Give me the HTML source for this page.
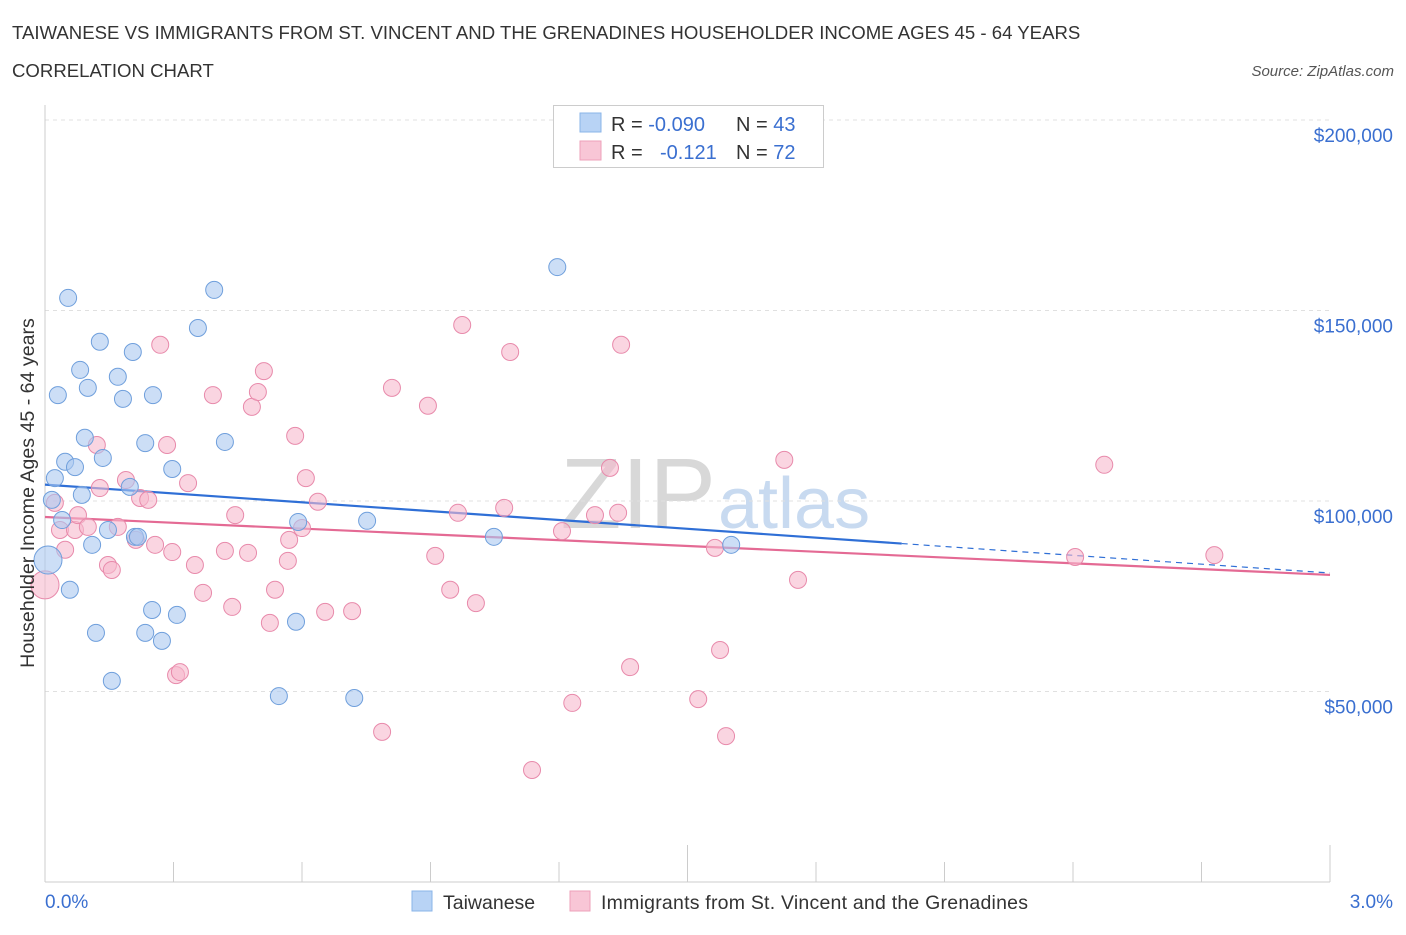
<!DOCTYPE html>
<html><head><meta charset="utf-8">
<style>
body{margin:0;background:#fff;font-family:"Liberation Sans",sans-serif;}
svg text{font-family:"Liberation Sans",sans-serif;}
</style></head>
<body>
<svg id="chart" width="1406" height="930" viewBox="0 0 1406 930" xmlns="http://www.w3.org/2000/svg">
<text x="12" y="39" font-size="18.6" fill="#333">TAIWANESE VS IMMIGRANTS FROM ST. VINCENT AND THE GRENADINES HOUSEHOLDER INCOME AGES 45 - 64 YEARS</text>
<text x="12" y="77" font-size="18.6" fill="#333">CORRELATION CHART</text>
<text x="1394" y="76" font-size="15" fill="#555" font-style="italic" text-anchor="end">Source: ZipAtlas.com</text>
<text x="716" y="528" font-size="100" fill="#d8d8d8" text-anchor="end" font-family="Liberation Serif">ZIP</text>
<text x="718" y="528" font-size="72" fill="#c8daf0">atlas</text>
<g id="grid"></g>
<g id="axes"></g>
<g id="trend"></g>
<g id="dots"></g>
<text transform="translate(34,493) rotate(-90)" font-size="19.6" fill="#333" text-anchor="middle">Householder Income Ages 45 - 64 years</text>
<g>
<rect x="553.5" y="105.5" width="270" height="62" fill="#fff" stroke="#ccc"/>
<rect x="580" y="113" width="21" height="19" fill="#b8d3f5" stroke="#8ab4e8"/>
<rect x="580" y="141" width="21" height="19" fill="#f8c6d6" stroke="#eea0ba"/>
<text x="611" y="131" font-size="20" fill="#333">R = <tspan fill="#3a6fd0">-0.090</tspan></text>
<text x="736" y="131" font-size="20" fill="#333">N = <tspan fill="#3a6fd0">43</tspan></text>
<text x="611" y="159" font-size="20" fill="#333">R = <tspan fill="#3a6fd0" x="660">-0.121</tspan></text>
<text x="736" y="159" font-size="20" fill="#333">N = <tspan fill="#3a6fd0">72</tspan></text>
</g>
<g>
<rect x="412" y="891" width="20" height="20" fill="#b8d3f5" stroke="#8ab4e8"/>
<text x="443" y="909" font-size="19.5" fill="#333">Taiwanese</text>
<rect x="570" y="891" width="20" height="20" fill="#f8c6d6" stroke="#eea0ba"/>
<text x="601" y="909" font-size="19.5" fill="#333" textLength="427">Immigrants from St. Vincent and the Grenadines</text>
</g>
</svg>
<script>
const yTicks=[50,100,150,200];
const yTickLabels=["$50,000","$100,000","$150,000","$200,000"];
const xTickLabels=["0.0%","3.0%"];
const blueX=[0.007,0.016,0.023,0.030,0.054,0.047,0.070,0.082,0.086,0.093,0.100,0.110,0.128,0.135,0.147,0.170,0.182,0.198,0.205,0.210,0.234,0.252,0.250,0.273,0.297,0.308,0.357,0.395,0.420,0.586,0.546,0.591,0.722,0.752,1.048,1.196,1.602,0.058,0.119,0.156,0.234,0.217,0.040];
const blueY=[84.5,100.3,106,127.8,153.3,110.3,108.9,134.4,101.6,116.6,129.7,88.5,141.8,111.3,92.4,132.6,126.8,103.7,139.1,90.6,115.2,127.8,71.4,63.3,108.4,70.1,145.4,155.4,115.5,68.3,48.8,94.5,48.3,94.8,90.6,161.4,88.5,76.7,65.4,52.8,65.4,90.6,95.0];
const pinkX=[0,0.023,0.035,0.047,0.070,0.077,0.100,0.121,0.128,0.147,0.156,0.170,0.189,0.212,0.222,0.241,0.257,0.269,0.285,0.297,0.306,0.315,0.334,0.350,0.369,0.392,0.420,0.437,0.444,0.474,0.483,0.497,0.511,0.525,0.537,0.567,0.570,0.584,0.600,0.609,0.637,0.654,0.717,0.787,0.810,0.894,0.911,0.946,0.964,0.974,1.006,1.072,1.086,1.137,1.207,1.231,1.284,1.319,1.338,1.345,1.366,1.525,1.564,1.576,1.590,1.726,1.758,2.405,2.473,2.730];
const pinkY=[78,99.5,92.4,87.2,92.4,96.3,93.2,114.7,103.4,83.2,81.9,93.2,105.5,89.8,100.8,100.3,88.5,141,114.7,86.6,54.3,55.1,104.7,83.2,75.9,127.8,86.9,72.2,96.3,86.4,124.7,128.6,134.1,68,76.7,84.3,89.8,117.1,92.9,106,99.8,70.9,71.1,39.4,129.7,125,85.6,76.7,96.9,146.2,73.2,98.2,139.1,29.4,92.1,47,96.3,108.7,96.9,141,56.4,48,87.7,60.9,38.3,110.8,79.3,85.3,109.5,85.8];
const blueTrend=[104.3,81.1];
const pinkTrend=[95.8,80.6];
const blueSolidEnd=2.0;
const NS="http://www.w3.org/2000/svg";
const X=v=>45+v/3*1285;
const Y=v=>882-v/50*190.5;
function mk(tag,attrs,parent){const e=document.createElementNS(NS,tag);for(const k in attrs)e.setAttribute(k,attrs[k]);document.getElementById(parent).appendChild(e);return e;}
yTicks.forEach((t,i)=>{
 const g=mk('line',{x1:45,x2:1330,y1:Y(t),y2:Y(t),stroke:'#e0e0e0','stroke-dasharray':'4,4'},'grid');
 
 
 const l=mk('text',{x:1393,y:Y(t)+22,'font-size':19,fill:'#3a6fd0','text-anchor':'end'},'axes');
 l.textContent=yTickLabels[i];
 
 
});
const yl=mk('line',{x1:45,x2:45,y1:105,y2:882,stroke:'#ccc'},'axes');


const xl=mk('line',{x1:45,x2:1330,y1:882,y2:882,stroke:'#ccc'},'axes');


for(let i=0;i<=10;i++){
 const t=mk('line',{x1:X(i*0.3),x2:X(i*0.3),y1:i%5==0?845:862,y2:882,stroke:'#ccc'},'axes');
 
 
}
const xa=mk('text',{x:45,y:908,'font-size':19,fill:'#3a6fd0'},'axes');xa.textContent=xTickLabels[0];


const xb=mk('text',{x:1393,y:908,'font-size':19,fill:'#3a6fd0','text-anchor':'end'},'axes');xb.textContent=xTickLabels[1];


function dots(xs,ys,fill,stroke,name){xs.forEach((x,i)=>{const c=mk('circle',{cx:X(x),cy:Y(ys[i]),r:i==0?14:8.5,fill:fill,'fill-opacity':0.6,stroke:stroke,'stroke-width':1},'dots');
 
 });}
dots(pinkX,pinkY,'#f7b9cd','#e88aab','pink-point');
dots(blueX,blueY,'#aac8f0','#6f9fdc','blue-point');
const bAt=x=>blueTrend[0]+(blueTrend[1]-blueTrend[0])*x/3;
const b1=mk('line',{x1:X(0),y1:Y(blueTrend[0]),x2:X(blueSolidEnd),y2:Y(bAt(blueSolidEnd)),stroke:'#2f6fd6','stroke-width':2.2},'trend');


const b2=mk('line',{x1:X(blueSolidEnd),y1:Y(bAt(blueSolidEnd)),x2:X(3),y2:Y(blueTrend[1]),stroke:'#2f6fd6','stroke-width':1.2,'stroke-dasharray':'6,5'},'trend');


const p1=mk('line',{x1:X(0),y1:Y(pinkTrend[0]),x2:X(3),y2:Y(pinkTrend[1]),stroke:'#e46a94','stroke-width':2.2},'trend');


</script>
</body></html>
